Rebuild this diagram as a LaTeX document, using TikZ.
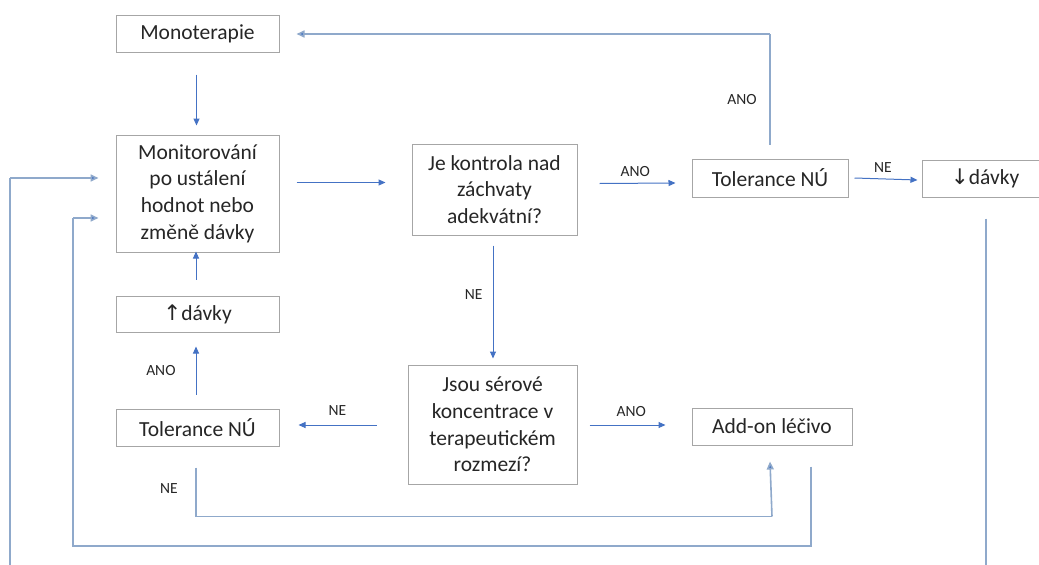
\documentclass[tikz,border=0pt]{standalone}
\usepackage{fontspec}
\setmainfont{Carlito}
\newfontfamily\symfont{DejaVu Sans}
\usetikzlibrary{arrows.meta,calc}
\definecolor{arrowblue}{HTML}{4472C4}
\definecolor{lineblue}{HTML}{8FA9CB}
\definecolor{boxgray}{HTML}{A6A6A6}
\definecolor{txt}{HTML}{262626}
\tikzset{
  box/.style={draw=boxgray, line width=1pt, fill=white, text=txt, align=center,
    inner sep=0pt, font=\fontsize{21.5}{26.6}\selectfont},
  arr/.style={draw=arrowblue, line width=1pt, -{Triangle[length=7pt,width=6pt]}},
  longarr/.style={draw=lineblue, line width=1.6pt, -{Triangle[length=8pt,width=7pt,fill=arrowblue]}},
  longline/.style={draw=lineblue, line width=1.6pt},
  lbl/.style={text=txt, font=\fontsize{15.5}{17}\selectfont, inner sep=0pt}
}
\begin{document}
\begin{tikzpicture}[x=1pt,y=-1pt]
\useasboundingbox (0,0) rectangle (1039,565);
\clip (0,0) rectangle (1039,565);
\fill[white] (0,0) rectangle (1039,565);

% nodes
\node[box, minimum width=163pt, minimum height=37pt] (mono) at (197.5,33.5) {Monoterapie};
\node[box, minimum width=163pt, minimum height=117pt] (mon) at (197.5,193.5) {Monitorování\\po ustálení\\hodnot nebo\\změně dávky};
\node[box, minimum width=163pt, minimum height=36pt] (up) at (197.5,314) {{\symfont ↑}dávky};
\node[box, minimum width=163pt, minimum height=37pt] (tolL) at (197.5,427.5) {Tolerance NÚ};
\node[box, minimum width=165pt, minimum height=91pt] (je) at (494.5,189.5) {Je kontrola nad\\záchvaty\\adekvátní?};
\node[box, minimum width=169pt, minimum height=119pt] (jsou) at (492.5,424.5) {Jsou sérové\\koncentrace v\\terapeutickém\\rozmezí?};
\node[box, minimum width=160pt, minimum height=37pt] (add) at (772,426.5) {Add-on léčivo};
\node[box, minimum width=156pt, minimum height=38pt] (tolR) at (770,178) {Tolerance NÚ};
\node[box, minimum width=126pt, minimum height=37pt] (down) at (985,178.5) {{\symfont ↓}dávky};

% helper coordinates
\coordinate (lowL) at (10,570);
\coordinate (lowR) at (986,570);
\coordinate (topY) at (0,34);
\coordinate (botY) at (0,546);

% arrows
\draw[arr] ($(mono.south)+(-1,22)$) -- ($(mon.north)+(-1,-9)$);
\draw[arr] ($(mon.east)+(17,-11)$) -- ($(je.west)+(-26,-7)$);
\draw[arr] ($(je.east)+(22,-6)$) -- ($(tolR.west)+(-16,5)$)
  node[lbl, pos=0.47, above=6pt] {ANO};
\draw[arr] ($(tolR.east)+(6,0)$) -- ($(down.west)+(-4,1.5)$)
  node[lbl, pos=0.45, above=6pt] {NE};
\draw[arr] ($(je.south)+(-1.5,10)$) -- ($(jsou.north)+(0.5,-6)$)
  node[lbl, pos=0.43, left=10pt] {NE};
\draw[arr] ($(jsou.east)+(12,0.5)$) -- ($(add.west)+(-26,-1.5)$)
  node[lbl, pos=0.55, above=8pt] {ANO};
\draw[arr] ($(jsou.west)+(-31,0.5)$) -- ($(tolL.east)+(19,-2.5)$)
  node[lbl, pos=0.5, above=9pt] {NE};
\draw[arr] ($(tolL.north)+(-1.5,-14)$) -- ($(up.south)+(-1.5,14)$)
  node[lbl, midway, left=20pt] {ANO};
\draw[arr] ($(up.north)+(-1.5,-16)$) -- ($(mon.south)+(-1.5,-1)$);

% long connectors
\draw[longline] ($(tolR.north)+(0,-14)$) coordinate (t0) -- (t0 |- topY) coordinate (tr);
\draw[longarr] (tr) -- ($(mono.east |- topY)+(17,0)$);
\node[lbl] (anoTop) at (742,100) {ANO};

\draw[longline] ($(tolL.south)+(-1.5,21)$) coordinate (s1) -- ++(0,49) coordinate (s2);
\draw[longline] (s2) -- (s2 -| add.south) coordinate (s3);
\draw[longarr] (s3) -- ($(add.south)+(-2,16)$);
\node[lbl] (neBot) at (169,489) {NE};

\draw[longline] ($(add.south)+(39,21)$) coordinate (b0) -- (b0 |- botY) coordinate (b1) -- (73,546) coordinate (b2) -- (73,218) coordinate (b3);
\draw[longarr] (b3) -- ($(mon.west)+(-17,24.5)$);

\draw[longline] (lowL) -- (10,178) coordinate (c1);
\draw[longarr] (c1) -- ($(mon.west)+(-17,-15.5)$);

\draw[longline] ($(down.south)+(1,21)$) -- (lowR);
\end{tikzpicture}
\end{document}
